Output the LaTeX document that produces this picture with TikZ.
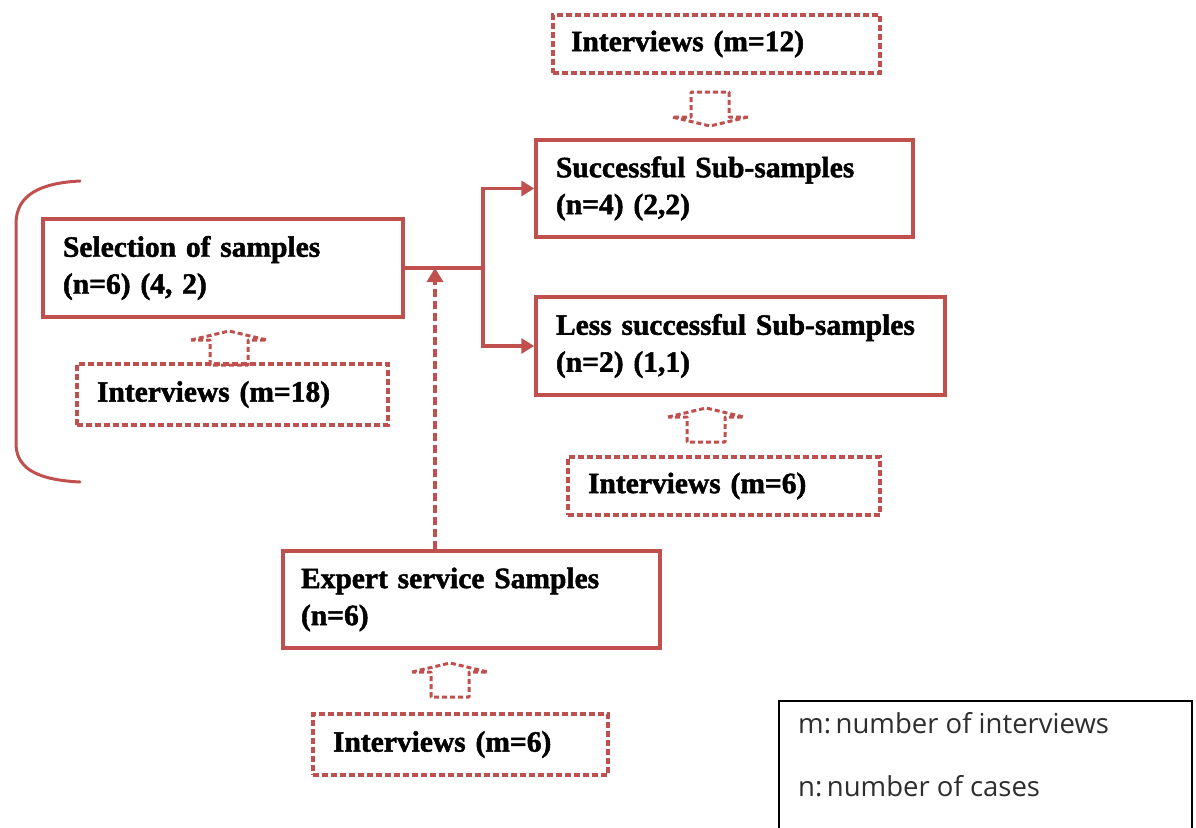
\documentclass[tikz,border=0pt]{standalone}
\usepackage{fontspec}
\setmainfont[BoldFeatures={FakeBold=1.6}]{Liberation Serif}
\newfontfamily\legendfont{Open Sans}
\usetikzlibrary{arrows.meta,calc}
\definecolor{boxred}{HTML}{C0504D}
\definecolor{legendgray}{HTML}{2E2E2E}

\tikzset{
  solidbox/.style={draw=boxred, line width=3.5pt, align=left, inner xsep=20pt,
    font=\bfseries\fontsize{29.5}{37}\selectfont},
  dashbox/.style={draw=boxred, line width=3.2pt, dash pattern=on 6pt off 3pt,
    align=left, inner xsep=19pt, font=\bfseries\fontsize{29.5}{37}\selectfont},
  conn/.style={draw=boxred, line width=3.5pt},
  tip/.style={-{Triangle[length=13pt,width=15pt]}},
  dashconn/.style={draw=boxred, line width=4pt, dash pattern=on 8pt off 4pt},
  hollowline/.style={draw=boxred, line width=3pt, dash pattern=on 5pt off 3pt, line join=round},
  blockarrow/.pic={
    \draw[hollowline] (-38,0) -- (0,-9) -- (38,0) -- (19,0) -- (19,25)
      -- (-19,25) -- (-19,0) -- cycle;
  },
  legendtext/.style={anchor=base west, inner sep=0pt, text=legendgray,
    font=\legendfont\fontsize{27.5}{32}\selectfont},
}

\begin{document}
\begin{tikzpicture}[x=1pt,y=-1pt]
\useasboundingbox (0,0) rectangle (1196,827);

% main boxes
\node[solidbox, minimum width=377pt, minimum height=97pt, text width=337pt] (succ)
  at (724.5,188.5) {Successful Sub-samples\\(n=4) (2,2)};
\node[solidbox, minimum width=360pt, minimum height=98pt, text width=320pt] (sel)
  at (223,268) {Selection of samples\\(n=6) (4, 2)};
\node[solidbox, minimum width=409pt, minimum height=98pt, text width=369pt] (less)
  at (740.5,346) {Less successful Sub-samples\\(n=2) (1,1)};
\node[solidbox, minimum width=377pt, minimum height=97pt, text width=341pt, inner xsep=18pt] (expert)
  at (471.5,599.5) {Expert service Samples\\(n=6)};

% interview boxes
\node[dashbox, minimum width=327pt, minimum height=58pt, text width=291pt, inner xsep=18pt] (i12)
  at (716.5,44) {Interviews (m=12)};
\node[dashbox, minimum width=311pt, minimum height=61pt, text width=271pt, inner xsep=20pt] (i18)
  at (232.5,394.5) {Interviews (m=18)};
\node[dashbox, minimum width=312pt, minimum height=58pt, text width=272pt, inner xsep=20pt] (i6r)
  at (724,486) {Interviews (m=6)};
\node[dashbox, minimum width=295pt, minimum height=61pt, text width=255pt, inner xsep=20pt] (i6b)
  at (460.5,744.5) {Interviews (m=6)};

% hollow block arrows between interviews and samples
\path (710,117) pic[rotate=180] {blockarrow};
\path (229,340) pic {blockarrow};
\path (706,417) pic {blockarrow};
\path (450,672) pic {blockarrow};

% branching connector
\coordinate (j) at (483,268);
\coordinate (m) at (435,268);
\draw[conn] (sel.east) -- (j);
\draw[conn, tip] (j) |- (succ.west);
\draw[conn, tip] (j) |- (less.west);
\draw[dashconn, -{Triangle[length=14pt,width=16pt]}] (expert.north -| m) -- (m);

% bracket round the selection stage
\draw[boxred, line width=3pt, line cap=round]
  (80,181) .. controls (40,183) and (17,195) .. (16,222) -- (16,445)
  .. controls (17,470) and (40,480) .. (80,482);

% legend
\draw[black, line width=2.5pt] (779,701) rectangle (1192,845);
\node[legendtext] (lm) at (798,733) {m:\,number of interviews};
\node[legendtext] (ln) at (798,796) {n:\,number of cases};
\end{tikzpicture}
\end{document}
